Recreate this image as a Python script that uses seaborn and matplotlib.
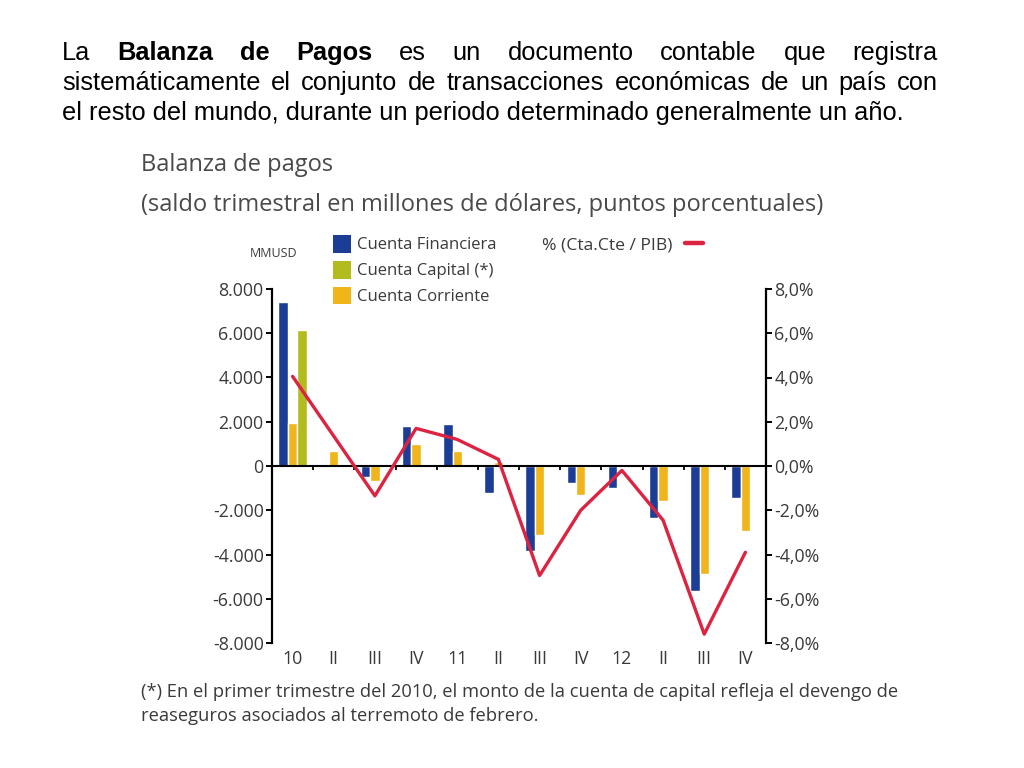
import numpy as np
import pandas as pd
import matplotlib
matplotlib.use("Agg")
import matplotlib.pyplot as plt
from matplotlib.patches import Patch
from matplotlib.lines import Line2D
import matplotlib.ticker as mticker
import seaborn as sns

# ---------------- data ----------------
quarters = ["2010-I", "2010-II", "2010-III", "2010-IV",
            "2011-I", "2011-II", "2011-III", "2011-IV",
            "2012-I", "2012-II", "2012-III", "2012-IV"]
tick_labels = ["10", "II", "III", "IV", "11", "II", "III", "IV", "12", "II", "III", "IV"]
cuenta_financiera = [7400, 100, -500, 1800, 1900, -1200, -3850, -750, -1000, -2350, -5650, -1450]
cuenta_corriente = [1950, 700, -700, 1000, 700, 200, -3100, -1300, 0, -1600, -4900, -2950]
cuenta_capital = [6150, 20, 20, 20, 20, 20, 20, 20, 20, 20, 20, 20]
cta_cte_pib = [4.05, 1.35, -1.35, 1.7, 1.2, 0.3, -4.95, -2.0, -0.2, -2.45, -7.6, -3.9]

series_names = ["Cuenta Financiera", "Cuenta Corriente", "Cuenta Capital (*)"]
legend_order = ["Cuenta Financiera", "Cuenta Capital (*)", "Cuenta Corriente"]
line_label = "% (Cta.Cte / PIB)"

C_BLUE = "#1C3D96"
C_ORANGE = "#F1B51C"
C_GREEN = "#B2BC1F"
C_RED = "#DC2342"
colors = {"Cuenta Financiera": C_BLUE, "Cuenta Corriente": C_ORANGE, "Cuenta Capital (*)": C_GREEN}

df = pd.DataFrame({
    "trimestre": quarters * 3,
    "cuenta": [series_names[0]] * 12 + [series_names[1]] * 12 + [series_names[2]] * 12,
    "valor": cuenta_financiera + cuenta_corriente + cuenta_capital,
})

# ---------------- figure ----------------
sns.set_theme(style="white")
plt.rcParams['font.family'] = ['Open Sans', 'DejaVu Sans']
W, H = 1024, 768
fig = plt.figure(figsize=(W / 100, H / 100), dpi=100)
fig.patch.set_facecolor("white")


def fx(px):
    return px / W


def fy(py):
    return 1 - py / H


TXT = "#3a3a3a"

ax = fig.add_axes([fx(272), fy(643), fx(766) - fx(272), fy(289) - fy(643)])
sns.barplot(data=df, x="trimestre", y="valor", hue="cuenta", order=quarters,
            hue_order=series_names, palette=colors, width=0.69, saturation=1,
            errorbar=None, legend=False, ax=ax)
ax.set_xlim(-0.5, len(quarters) - 0.5)
ax.set_ylim(-8000, 8000)
ax.set_xlabel("")
ax.set_ylabel("")
ax.grid(False)
ax.patch.set_alpha(0)

ax.set_yticks(np.arange(-8000, 8001, 2000))
ax.yaxis.set_major_formatter(mticker.FuncFormatter(
    lambda v, p: "0" if v == 0 else f"{v:,.0f}".replace(",", ".")))
ax.tick_params(axis="y", left=True, direction="out", length=4, width=1.4,
               color="black", labelsize=12.8, labelcolor=TXT, pad=2)

for s in ["top", "right"]:
    ax.spines[s].set_visible(False)
ax.spines["left"].set_color("black")
ax.spines["left"].set_linewidth(1.6)
ax.spines["bottom"].set_position(("data", 0))
ax.spines["bottom"].set_color("black")
ax.spines["bottom"].set_linewidth(1.5)

ax.set_xticks(np.arange(0.5, len(quarters) - 1, 1))
ax.tick_params(axis="x", bottom=True, direction="out", length=3, width=1.3,
               color="black", labelbottom=False)

secax = ax.secondary_xaxis("bottom")
secax.set_xticks(np.arange(len(quarters)), labels=tick_labels)
secax.tick_params(length=0, pad=5, labelsize=12.8, labelcolor=TXT)
secax.spines["bottom"].set_visible(False)

ax2 = ax.twinx()
sns.lineplot(x=np.arange(len(quarters)), y=cta_cte_pib, ax=ax2, color=C_RED, linewidth=2.4)
ax2.set_ylim(-8, 8)
ax2.set_yticks(np.arange(-8, 8.1, 2))
ax2.yaxis.set_major_formatter(mticker.FuncFormatter(
    lambda v, p: f"{v:.1f}%".replace(".", ",")))
ax2.tick_params(axis="y", right=True, direction="out", length=4, width=1.4,
                color="black", labelsize=12.8, labelcolor=TXT, pad=2)
ax2.grid(False)
for s in ["top", "left", "bottom"]:
    ax2.spines[s].set_visible(False)
ax2.spines["right"].set_color("black")
ax2.spines["right"].set_linewidth(1.6)
ax2.set_ylabel("")

# ---------------- legends ----------------
handles = [Patch(facecolor=colors[n], edgecolor="none", label=n) for n in legend_order]
leg1 = fig.legend(handles=handles, loc="upper left", bbox_to_anchor=(fx(333), fy(235)),
                  frameon=False, fontsize=12, handlelength=1.05, handleheight=1.25,
                  handletextpad=0.4, labelspacing=0.45, borderpad=0, borderaxespad=0,
                  labelcolor=TXT)
leg2 = fig.legend(handles=[Line2D([0], [0], color=C_RED, lw=3.2, label=line_label)],
                  loc="upper left", bbox_to_anchor=(fx(542), fy(237)), frameon=False,
                  fontsize=12.6, handlelength=1.05, handletextpad=0.7, markerfirst=False,
                  borderpad=0, borderaxespad=0, labelcolor=TXT)

fig.text(fx(250), fy(257), "MMUSD", fontsize=9, color=TXT, va="baseline")

# ---------------- chart titles & footnote ----------------
fig.text(fx(141), fy(171), "Balanza de pagos", fontsize=17, color="#4a4a4a", va="baseline")
fig.text(fx(141), fy(211), "(saldo trimestral en millones de dólares, puntos porcentuales)",
         fontsize=17, color="#4a4a4a", va="baseline")
fig.text(fx(141), fy(697),
         "(*) En el primer trimestre del 2010, el monto de la cuenta de capital refleja el devengo de",
         fontsize=13.2, color=TXT, va="baseline")
fig.text(fx(141), fy(721), "reaseguros asociados al terremoto de febrero.",
         fontsize=13.2, color=TXT, va="baseline")

# ---------------- slide header (justified) ----------------
HF = "Liberation Sans"
HS = 18.3
renderer = fig.canvas.get_renderer()


def justify(words, y, x0, x1):
    texts = []
    for w, bold in words:
        t = fig.text(0, 0, w, fontsize=HS, family=HF, color="black",
                     fontweight="bold" if bold else "normal", va="baseline", ha="left")
        texts.append(t)
    widths = [t.get_window_extent(renderer).width for t in texts]
    gap = ((x1 - x0) - sum(widths)) / (len(words) - 1)
    x = x0
    for t, w in zip(texts, widths):
        t.set_position((fx(x), fy(y)))
        x += w + gap


line1 = [("La", False), ("Balanza", True), ("de", True), ("Pagos", True), ("es", False),
         ("un", False), ("documento", False), ("contable", False), ("que", False), ("registra", False)]
line2 = [(w, False) for w in "sistemáticamente el conjunto de transacciones económicas de un país con".split()]
justify(line1, 60, 62, 938)
justify(line2, 90, 62, 938)
fig.text(fx(62), fy(120), "el resto del mundo, durante un periodo determinado generalmente un año.",
         fontsize=HS, family=HF, color="black", va="baseline")

fig.savefig("out.png", dpi=100)
